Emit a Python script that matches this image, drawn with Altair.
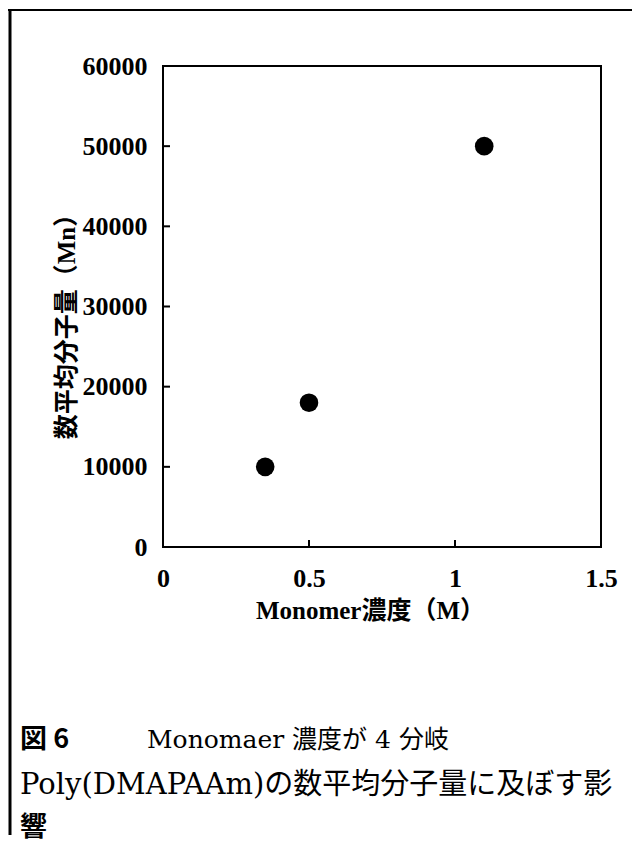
import altair as alt
import pandas as pd

# data
monomer_M = [0.35, 0.5, 1.1]
mn_values = [10000, 18000, 50000]
y_tick_values = [0, 10000, 20000, 30000, 40000, 50000, 60000]
y_inner_ticks = [10000, 20000, 30000, 40000, 50000]
x_tick_values = [0, 0.5, 1.0, 1.5]
x_inner_ticks = [0.5, 1.0]

x_title = "Monomer濃度（M）"
y_title = "数平均分子量（Mn）"
cap_fig = "図 6"
cap_line1 = "Monomaer 濃度が 4 分岐"
cap_line2 = "Poly(DMAPAAm)の数平均分子量に及ぼす影"
cap_line3 = "響"

W, H = 438, 481
SERIF = "Liberation Serif, Noto Sans CJK JP"
CAPF = "DejaVu Serif, Noto Sans CJK JP"

df = pd.DataFrame({"x": monomer_M, "y": mn_values})

xscale = alt.Scale(domain=[0, 1.5], nice=False, zero=True)
yscale = alt.Scale(domain=[0, 60000], nice=False)

xaxis = alt.Axis(values=x_tick_values, format="~g", grid=False, domain=False,
                 ticks=False, tickSize=0, labelPadding=18,
                 labelFont="Liberation Serif", labelFontWeight="bold", labelFontSize=26,
                 labelColor="black", labelFlush=False, labelOverlap=False,
                 title=x_title, titleFont=SERIF, titleFontWeight="bold", titleFontSize=25,
                 titleColor="black", titleX=207, titleY=63, titleAlign="center",
                 titleBaseline="middle")
yaxis = alt.Axis(values=y_tick_values, format="d", grid=False, domain=False,
                 ticks=False, tickSize=0, labelPadding=16,
                 labelFont="Liberation Serif", labelFontWeight="bold", labelFontSize=26,
                 labelColor="black", labelFlush=False, labelOverlap=False,
                 title=y_title, titleFont=SERIF, titleFontWeight="bold", titleFontSize=25,
                 titleColor="black", titleX=-97, titleY=254, titleAlign="center",
                 titleBaseline="middle", titleAngle=270)

points = alt.Chart(df).mark_circle(size=346, color="black", opacity=1).encode(
    x=alt.X("x:Q", scale=xscale, axis=xaxis),
    y=alt.Y("y:Q", scale=yscale, axis=yaxis),
)

yt = alt.Chart(pd.DataFrame({"y": y_inner_ticks})).mark_rule(color="black", strokeWidth=2).encode(
    y=alt.Y("y:Q", scale=yscale), x=alt.value(0), x2=alt.value(7))
xt = alt.Chart(pd.DataFrame({"x": x_inner_ticks})).mark_rule(color="black", strokeWidth=2).encode(
    x=alt.X("x:Q", scale=xscale), y=alt.value(H), y2=alt.value(H - 7))

one = pd.DataFrame({"a": [0]})

def txt(s, x, y, font, size, weight="normal"):
    return alt.Chart(one).mark_text(align="left", baseline="middle", font=font,
                                    fontSize=size, fontWeight=weight, color="black").encode(
        x=alt.value(x), y=alt.value(y), text=alt.value(s))

c0 = txt(cap_fig, -143, 674, "Noto Sans CJK JP", 27, "bold")
c1 = txt(cap_line1, -16, 674, CAPF, 25)
c2 = txt(cap_line2, -143, 719, CAPF, 29)
c3 = txt(cap_line3, -143, 762, "Noto Sans CJK JP", 27, "bold")

left_border = alt.Chart(one).mark_rule(color="black", strokeWidth=3).encode(
    x=alt.value(-153), y=alt.value(-56), y2=alt.value(769))
top_border = alt.Chart(one).mark_rule(color="black", strokeWidth=2).encode(
    x=alt.value(-155), x2=alt.value(469), y=alt.value(-56))

chart = alt.layer(points, yt, xt, c0, c1, c2, c3, left_border, top_border).properties(
    width=W, height=H,
    autosize=alt.AutoSizeParams(type="none"),
    padding={"left": 155, "top": 58, "right": 31, "bottom": 296},
    background="white",
).configure_view(stroke="black", strokeWidth=2)

chart.save("out.html", embed_options={"renderer": "svg", "actions": False})
